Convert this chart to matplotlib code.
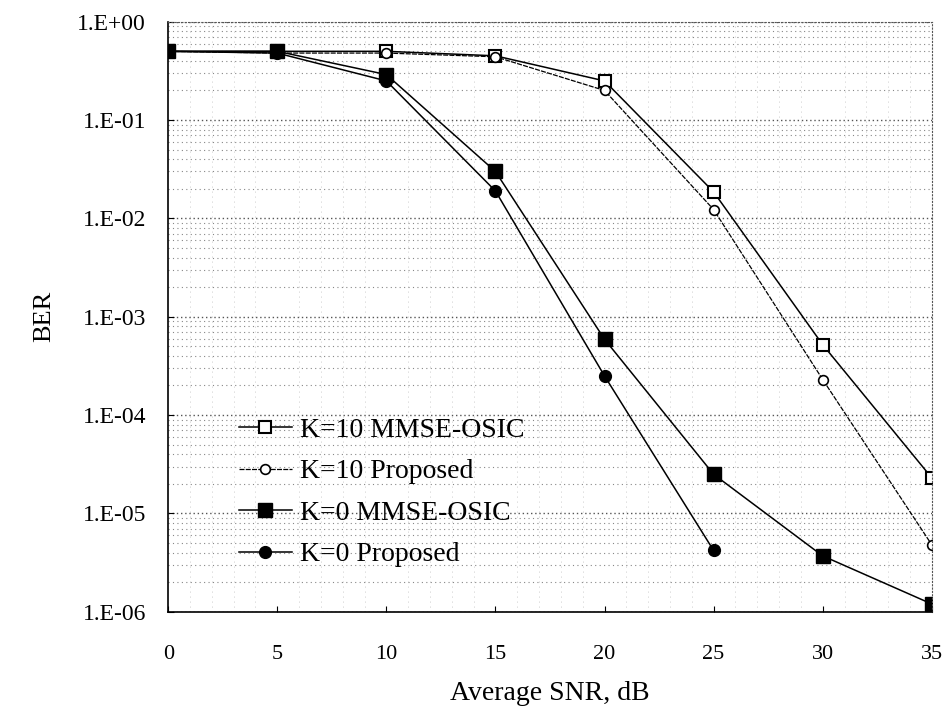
import matplotlib
matplotlib.use("Agg")
import matplotlib.pyplot as plt
from matplotlib.ticker import FixedLocator, LogLocator, NullFormatter

# данные
snr = [0, 5, 10, 15, 20, 25, 30, 35]
k10_mmse = [0.5, 0.5, 0.5, 0.45, 0.25, 0.0186, 5.2e-4, 2.3e-5]
k10_prop = [0.5, 0.48, 0.48, 0.44, 0.2, 0.0123, 2.3e-4, 4.8e-6]
k0_mmse = [0.5, 0.5, 0.29, 0.03, 5.9e-4, 2.5e-5, 3.7e-6, 1.2e-6]
snr_k0p = [0, 5, 10, 15, 20, 25]
k0_prop = [0.5, 0.48, 0.25, 0.019, 2.5e-4, 4.2e-6]

ytick_vals = [1e0, 1e-1, 1e-2, 1e-3, 1e-4, 1e-5, 1e-6]
ytick_lbls = ["1.E+00", "1.E-01", "1.E-02", "1.E-03", "1.E-04", "1.E-05", "1.E-06"]

plt.rcParams['font.family'] = ['Liberation Serif', 'DejaVu Serif']

fig = plt.figure(figsize=(9.45, 7.24), dpi=100)
ax = fig.add_axes([0.178, 0.155, 0.808, 0.815])

ax.plot(snr, k10_mmse, color='black', lw=1.1, marker='s', ms=8,
        mfc='white', mec='black', mew=1.5, label='K=10 MMSE-OSIC')
ax.plot(snr, k10_prop, color='black', lw=0.9, ls=(0, (4, 1)), marker='o', ms=7,
        mfc='white', mec='black', mew=1.2, label='K=10 Proposed')
ax.plot(snr, k0_mmse, color='black', lw=1.1, marker='s', ms=9.5,
        mfc='black', mec='black', label='K=0 MMSE-OSIC')
ax.plot(snr_k0p, k0_prop, color='black', lw=1.1, marker='o', ms=8.5,
        mfc='black', mec='black', label='K=0 Proposed')

ax.set_yscale('log')
ax.set_ylim(1e-6, 1)
ax.set_xlim(0, 35)
ax.set_xticks(snr)
ax.xaxis.set_minor_locator(FixedLocator(range(0, 36)))
ax.yaxis.set_major_locator(FixedLocator(ytick_vals))
ax.set_yticklabels(ytick_lbls)
ax.yaxis.set_minor_locator(LogLocator(base=10, subs=range(2, 10)))
ax.yaxis.set_minor_formatter(NullFormatter())

ax.grid(True, which='major', axis='y', color='#555555', ls=(0, (1, 2)), lw=1.0)
ax.grid(True, which='minor', axis='y', color='#888888', ls=(0, (1, 3)), lw=0.8)
ax.grid(True, which='minor', axis='x', color='#bbbbbb', ls=(0, (1, 5)), lw=0.6)

for s in ['top', 'right']:
    ax.spines[s].set_linestyle((0, (1, 2)))
    ax.spines[s].set_color('#555555')
ax.spines['left'].set_linewidth(1.2)
ax.spines['bottom'].set_linewidth(1.2)

ax.tick_params(axis='both', which='major', direction='in', length=4)
ax.tick_params(axis='x', which='major', pad=24, labelsize=16)
ax.tick_params(axis='y', which='major', pad=16, labelsize=17)
ax.tick_params(which='minor', length=0)

ax.set_xlabel('Average SNR, dB', fontsize=20, labelpad=12)
ax.set_ylabel('BER', fontsize=19, labelpad=16)

ax.legend(loc='upper left', bbox_to_anchor=(0.06, 0.372), frameon=False,
          fontsize=20, numpoints=1, handlelength=1.9, labelspacing=0.58,
          handletextpad=0.3)

fig.savefig('out.png', dpi=100)
